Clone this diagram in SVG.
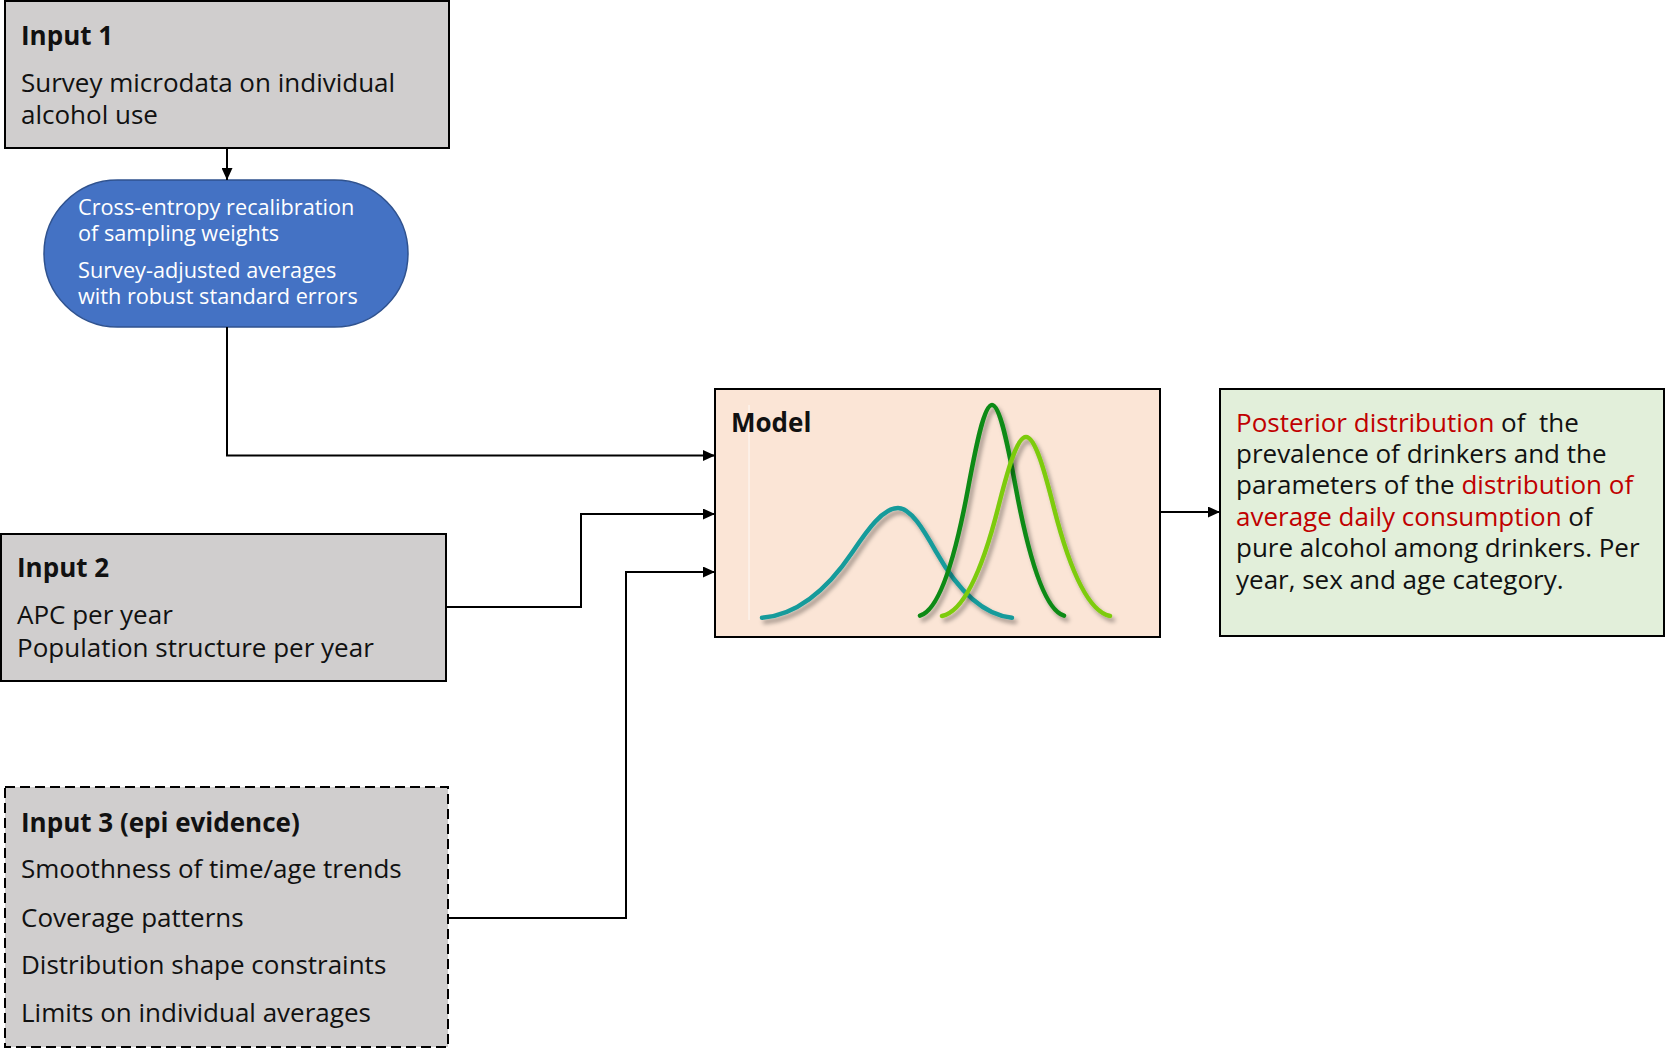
<svg xmlns="http://www.w3.org/2000/svg" width="1666" height="1049" viewBox="0 0 1666 1049">
<style>
.box{fill:#D0CECE;stroke:#000;stroke-width:2}
.t{font-family:"Open Sans","Noto Sans",sans-serif;font-size:26px;fill:#111}
.b{font-weight:bold}
.w{font-family:"Open Sans","Noto Sans",sans-serif;font-size:21.7px;fill:#fff}
.red{fill:#C00000}
.conn{fill:none;stroke:#000;stroke-width:2}
.curve{fill:none;stroke-width:4.5;stroke-linecap:round;filter:url(#sh)}
</style>
<defs>
<marker id="arr" markerUnits="userSpaceOnUse" markerWidth="12" markerHeight="11" refX="12" refY="5.5" orient="auto">
<path d="M0,0 L12,5.5 L0,11 z" fill="#000"/>
</marker>
<filter id="sh" x="-20%" y="-20%" width="140%" height="140%">
<feDropShadow dx="3" dy="4" stdDeviation="2" flood-color="#000" flood-opacity="0.35"/>
</filter>
</defs>

<g id="input1">
<rect class="box" x="5" y="1" width="444" height="147"/>
<text class="t b" x="21" y="45">Input 1</text>
<text class="t" x="21" y="92">Survey microdata on individual</text>
<text class="t" x="21" y="124">alcohol use</text>
</g>

<g id="process">
<rect x="44" y="180" width="364" height="147" rx="73.5" ry="73.5" fill="#4472C4" stroke="#2F528F" stroke-width="1.5"/>
<text class="w" x="78" y="215">Cross-entropy recalibration</text>
<text class="w" x="78" y="241">of sampling weights</text>
<text class="w" x="78" y="278">Survey-adjusted averages</text>
<text class="w" x="78" y="304">with robust standard errors</text>
</g>

<g id="input2">
<rect class="box" x="1" y="534" width="445" height="147"/>
<text class="t b" x="17" y="577">Input 2</text>
<text class="t" x="17" y="624">APC per year</text>
<text class="t" x="17" y="657">Population structure per year</text>
</g>

<g id="input3">
<rect class="box" x="5" y="787" width="443" height="260" stroke-dasharray="10,5"/>
<text class="t b" x="21" y="832">Input 3 (epi evidence)</text>
<text class="t" x="21" y="878">Smoothness of time/age trends</text>
<text class="t" x="21" y="927">Coverage patterns</text>
<text class="t" x="21" y="974">Distribution shape constraints</text>
<text class="t" x="21" y="1022">Limits on individual averages</text>
</g>

<g id="model">
<rect x="715" y="389" width="445" height="248" fill="#FBE5D6" stroke="#000" stroke-width="2"/>
<line x1="749" y1="405" x2="749" y2="620" stroke="#fff" stroke-width="1" opacity="0.8"/>
<text class="t b" x="731" y="432">Model</text>
<path class="curve" stroke="#169B9B" d="M762,617.8 C792.3,615.3 822.5,596.6 852.7,551.7 C867.8,529.2 882.9,508 898,508 C910.7,508 923.3,529.2 936,551.7 C961.3,596.6 986.7,615.3 1012,617.8"/>
<path class="curve" stroke="#0B8A14" d="M920,615.7 C936,611 952,575 968,488.8 C976,445.7 984,405 992,405 C1000,405 1008,445.7 1016,488.8 C1032,575 1048,611 1064,615.7"/>
<path class="curve" stroke="#7DCB0A" d="M942,616 C960.7,612 979.3,581.4 998,508.2 C1007.3,471.6 1016.7,437 1026,437 C1035.3,437 1044.7,471.6 1054,508.2 C1072.7,581.4 1091.3,612 1110,616"/>
</g>

<g id="output">
<rect x="1220" y="389" width="444" height="247" fill="#E2EFDA" stroke="#000" stroke-width="2"/>
<text class="t" x="1236" y="432"><tspan class="red">Posterior distribution</tspan> of&#160; the</text>
<text class="t" x="1236" y="463">prevalence of drinkers and the</text>
<text class="t" x="1236" y="494">parameters of the <tspan class="red">distribution of</tspan></text>
<text class="t" x="1236" y="526"><tspan class="red">average daily consumption</tspan> of</text>
<text class="t" x="1236" y="557">pure alcohol among drinkers. Per</text>
<text class="t" x="1236" y="589">year, sex and age category.</text>
</g>

<g id="connectors">
<path class="conn" d="M227,148 L227,180" marker-end="url(#arr)"/>
<path class="conn" d="M227,327 L227,455.5 L715,455.5" marker-end="url(#arr)"/>
<path class="conn" d="M446,607 L581,607 L581,514 L715,514" marker-end="url(#arr)"/>
<path class="conn" d="M448,918 L626,918 L626,572 L715,572" marker-end="url(#arr)"/>
<path class="conn" d="M1160,512 L1220,512" marker-end="url(#arr)"/>
</g>
</svg>
